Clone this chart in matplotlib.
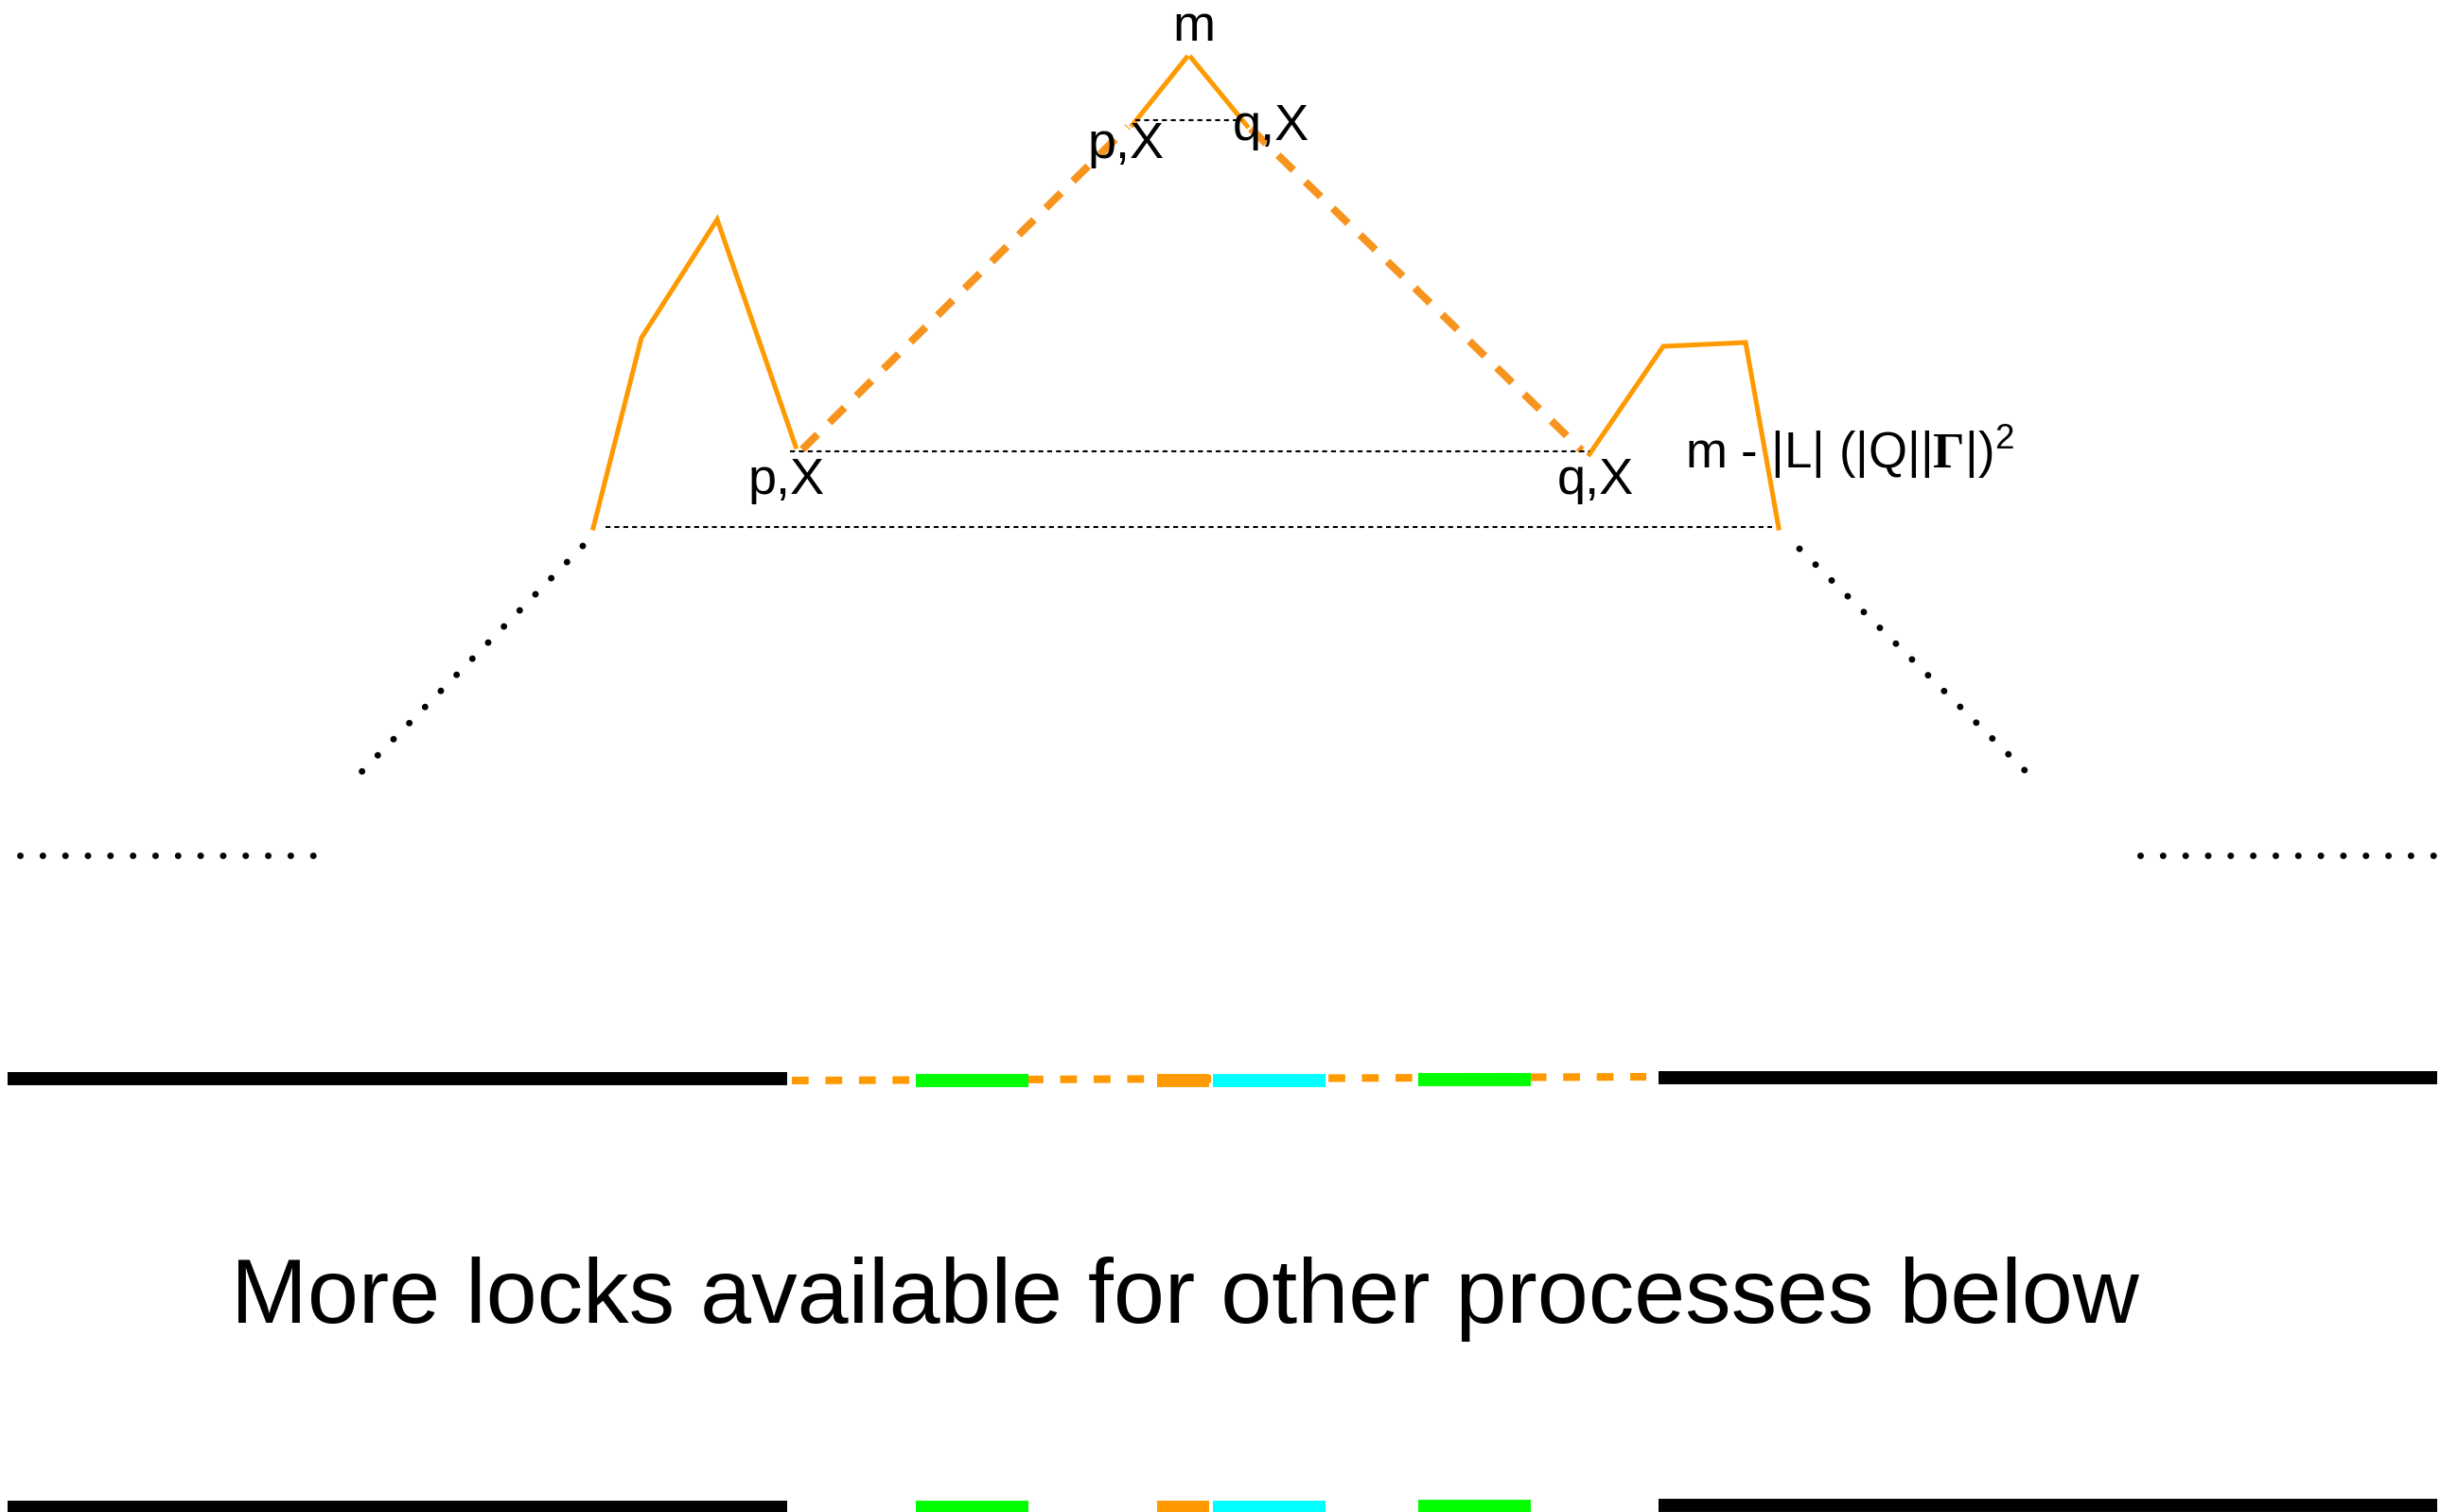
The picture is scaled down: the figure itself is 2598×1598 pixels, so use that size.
import matplotlib
matplotlib.use('Agg')  # no display
import matplotlib.pyplot as plt

plt.rcParams['font.family'] = ['Liberation Sans', 'DejaVu Sans']
plt.rcParams['mathtext.fontset'] = 'custom'
plt.rcParams['mathtext.rm'] = 'Liberation Sans'
plt.rcParams['mathtext.bf'] = 'Liberation Serif:bold'

# canvas in pixel units, y grows downward
W, H = 2598, 1598

# solid orange path pieces
left_hill_x = [627, 678, 758, 841]
left_hill_y = [558, 357, 232, 472]
right_hill_x = [1680, 1758, 1845, 1880]
right_hill_y = [480, 366, 362, 558]
top_left_x = [1197, 1254]
top_left_y = [132, 61]
top_right_x = [1259, 1318]
top_right_y = [61, 133]

# dashed orange (skipped) pieces
skip_left_x = [848, 1192]
skip_left_y = [475, 134]
skip_right_x = [1322, 1672]
skip_right_y = [136, 476]

# thin dotted levels: x start, x end, y
level_x0 = [1200, 835, 640]
level_x1 = [1313, 1680, 1873]
level_y = [127, 477, 557]

# black dotted "continues" lines
cont_left_x = [616, 378]
cont_left_y = [577, 820]
cont_right_x = [1902, 2146]
cont_right_y = [580, 820]
flat_left_x = [21, 335]
flat_right_x = [2262, 2578]
flat_y = 904

# lock bars, two rows
bar_kind = ['held', 'green', 'orange', 'cyan', 'green', 'held']
bar_start = [8, 968, 1223, 1282, 1499, 1753]
bar_end = [832, 1087, 1278, 1401, 1618, 2576]
row1_y = [1140, 1141.5, 1141.5, 1141.5, 1140.5, 1138.5]
row2_y = [1593, 1593, 1593, 1593, 1592, 1591]
row1_skip_x = [837, 1740]
row1_skip_y = [1142, 1138]

kind_color = {'held': 'black', 'green': '#00ff00', 'orange': '#ff9900', 'cyan': '#00ffff'}

# labels
labels = ['m', 'p,X', 'q,X', 'p,X', 'q,X', 'm - |L| (|Q||$\\mathbf{\\Gamma}$|)$^{2}$']
label_x = [1262, 1150, 1303, 791, 1646, 1781]
label_y = [43, 167, 148, 522, 522, 495]
label_ha = ['center', 'left', 'left', 'left', 'left', 'left']
caption = 'More locks available for other processes below'

fig = plt.figure(figsize=(W / 100, H / 100), dpi=100)
ax = fig.add_axes([0, 0, 1, 1])
ax.set_xlim(0, W)
ax.set_ylim(H, 0)
ax.axis('off')

solid_orange = '#ff9900'
dash_orange = '#f7941e'

for xs, ys in [(left_hill_x, left_hill_y), (right_hill_x, right_hill_y),
               (top_left_x, top_left_y), (top_right_x, top_right_y)]:
    ax.plot(xs, ys, color=solid_orange, lw=3.6, solid_joinstyle='miter')

for xs, ys in [(skip_left_x, skip_left_y), (skip_right_x, skip_right_y)]:
    ax.plot(xs, ys, color=dash_orange, lw=5.8, linestyle=(0, (2.8, 2.2)))

for x0, x1, y in zip(level_x0, level_x1, level_y):
    ax.plot([x0, x1], [y, y], color='black', lw=1.5, linestyle=(0, (2.5, 2)))

dots = dict(color='black', lw=5.0, linestyle=(0, (0.01, 3.42)), dash_capstyle='round')
ax.plot(cont_left_x, cont_left_y, **dots)
ax.plot(cont_right_x, cont_right_y, **dots)
ax.plot(flat_left_x, [flat_y, flat_y], **dots)
ax.plot(flat_right_x, [flat_y, flat_y], **dots)

# row 1: skipped range drawn as dashes under the bars
ax.plot(row1_skip_x, row1_skip_y, color=solid_orange, lw=5.8, linestyle=(0, (2.2, 2.2)))
for row_y in [row1_y, row2_y]:
    for k, x0, x1, y in zip(bar_kind, bar_start, bar_end, row_y):
        ax.plot([x0, x1], [y, y], color=kind_color[k], lw=10, solid_capstyle='butt')

for t, x, y, ha in zip(labels, label_x, label_y, label_ha):
    size = 38 if '$' in t else 39
    ax.text(x, y, t, fontsize=size, ha=ha, va='baseline')

ax.text(244, 1398, caption, fontsize=69.8, ha='left', va='baseline')

fig.savefig('out.png', dpi=100)
